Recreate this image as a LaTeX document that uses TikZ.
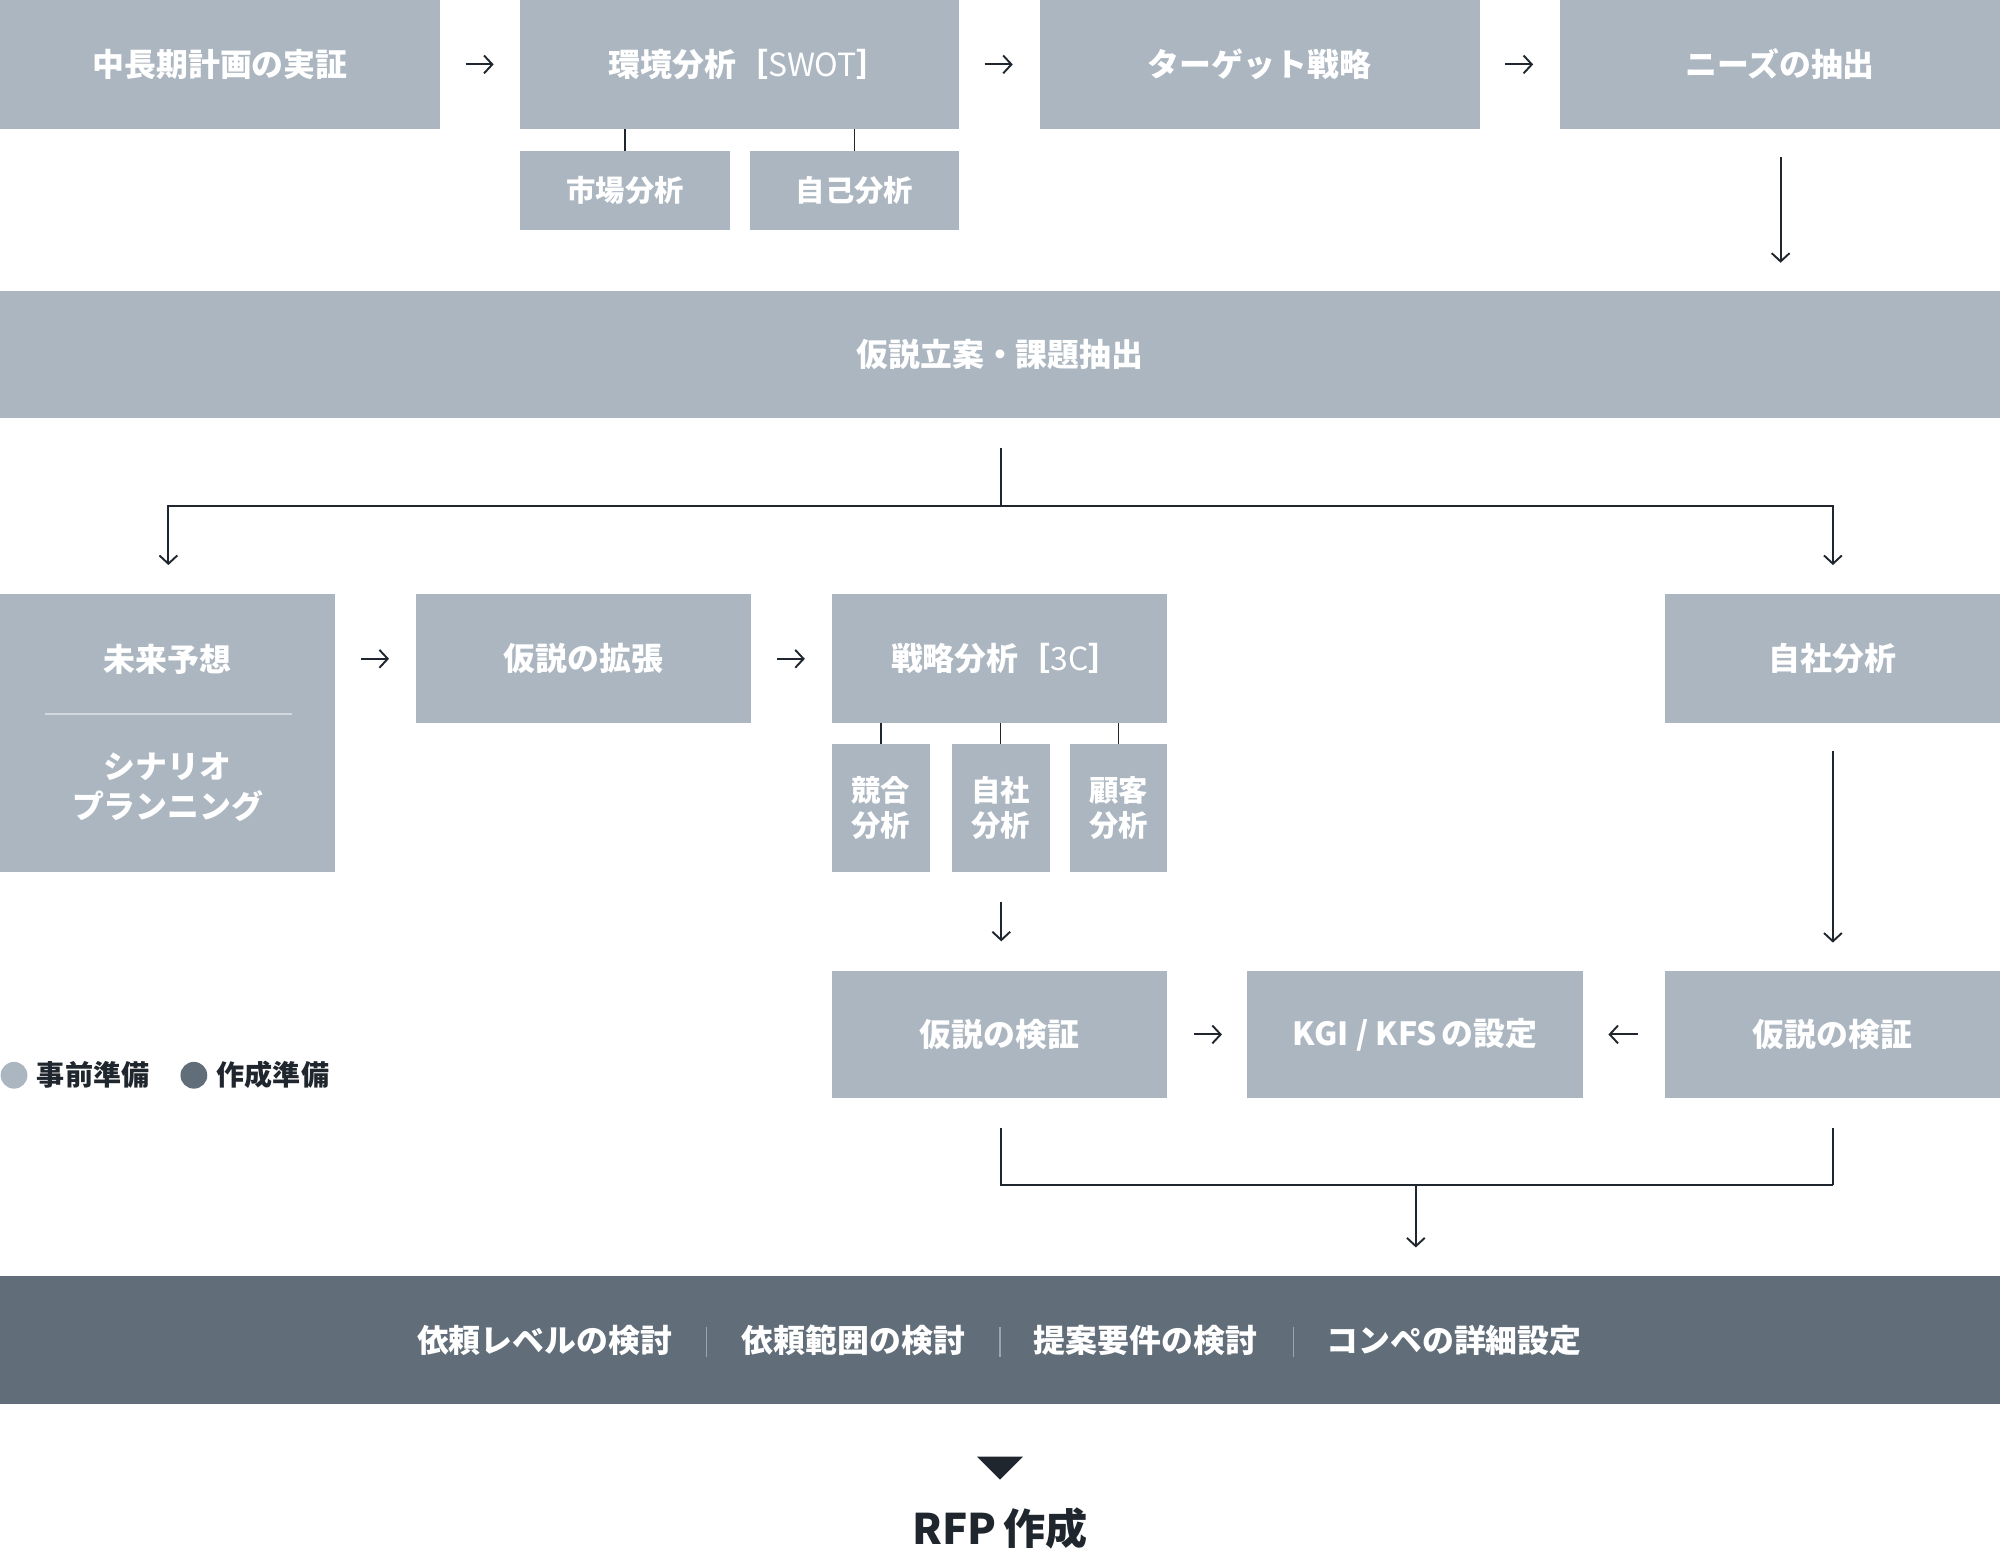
\documentclass[tikz,border=0pt]{standalone}
\usepackage{fontspec}
\setmainfont{Noto Sans CJK JP}
\usetikzlibrary{arrows.meta}
\definecolor{lightc}{HTML}{ABB6C0}
\definecolor{darkbar}{HTML}{616E79}
\definecolor{inkc}{HTML}{1F262D}
\definecolor{divc}{HTML}{D2D8DE}
\definecolor{sepc}{HTML}{9AA5AF}
\tikzset{
  box/.style={fill=lightc, inner sep=0pt, outer sep=0pt, text=white, align=center,
    font=\fontsize{25}{31}\selectfont\bfseries},
  subbox/.style={box, font=\fontsize{23}{28}\selectfont\bfseries},
  arr/.style={draw=inkc, line width=1.5pt, -{Straight Barb[length=6.5pt,width=14pt]}},
  link/.style={draw=inkc, line width=1.2pt},
  lbl/.style={inner sep=0pt, outer sep=0pt},
}
\begin{document}
\begin{tikzpicture}[x=1pt,y=-1pt]
\useasboundingbox (0,0) rectangle (1568,1223);
% row 1
\node[box, minimum width=345, minimum height=101] (b1) at (172.5,50.5) {中長期計画の実証};
\node[box, minimum width=344, minimum height=101] (b2) at (580,50.5) {\hspace{14pt}環境分析［{\mdseries SWOT}］};
\node[box, minimum width=345, minimum height=101] (b3) at (987.5,50.5) {ターゲット戦略};
\node[box, minimum width=345, minimum height=101] (b4) at (1395.5,50.5) {ニーズの抽出};
\draw[arr, shorten <=20pt, shorten >=21pt] (b1) -- (b2);
\draw[arr, shorten <=20pt, shorten >=21pt] (b2) -- (b3);
\draw[arr, shorten <=20pt, shorten >=21pt] (b3) -- (b4);
% sub boxes of SWOT
\node[subbox, minimum width=164, minimum height=62] (s1) at (490,149) {市場分析};
\node[subbox, minimum width=164, minimum height=62] (s2) at (670,149) {自己分析};
\draw[link] (s1.north) -- (s1.north |- b2.south);
\draw[link] (s2.north) -- (s2.north |- b2.south);
% big box
\node[box, minimum width=1568, minimum height=100] (big) at (784,278) {仮説立案・課題抽出};
\draw[arr, shorten <=22pt, shorten >=22pt] (b4.south -| 1396,0) -- (big.north -| 1396,0);
% row 3
\node[box, minimum width=263, minimum height=218] (fut) at (131.5,575) {};
\node[lbl, text=white, font=\fontsize{25}{31}\selectfont\bfseries] (futa) at (131.5,517) {未来予想};
\node[lbl, text=white, font=\fontsize{25}{31}\selectfont\bfseries, align=center] (futb) at (131.5,617) {シナリオ\\プランニング};
\draw[divc, line width=1.5pt] (35,560) -- (229,560);
\node[box, minimum width=263, minimum height=101] (ext) at (457.5,516.5) {仮説の拡張};
\node[box, minimum width=263, minimum height=101] (c3) at (783.5,516.5) {\hspace{10pt}戦略分析［{\mdseries 3C}］};
\node[box, minimum width=263, minimum height=101] (own) at (1436.5,516.5) {自社分析};
\coordinate (fute) at (fut.east |- ext.west);
\draw[arr, shorten <=20pt, shorten >=21pt] (fute) -- (ext.west);
\draw[arr, shorten <=20pt, shorten >=21pt] (ext) -- (c3);
% branch
\coordinate (j) at (785,397);
\coordinate (jl) at (132,397);
\coordinate (jr) at (1437,397);
\draw[link, line width=1.5pt, shorten <=23pt] (big.south -| j) -- (j);
\draw[arr] (j) -- (jl) -- ([yshift=23pt]jl |- fut.north);
\draw[arr] (j) -- (jr) -- ([yshift=23pt]jr |- own.north);
% 3C sub boxes
\node[subbox, minimum width=77, minimum height=101] (k1) at (690.5,633.5) {競合\\分析};
\node[subbox, minimum width=77, minimum height=101] (k2) at (784.5,633.5) {自社\\分析};
\node[subbox, minimum width=76, minimum height=101] (k3) at (877,633.5) {顧客\\分析};
\draw[link] (k1.north) -- (k1.north |- c3.south);
\draw[link] (k2.north) -- (k2.north |- c3.south);
\draw[link] (k3.north) -- (k3.north |- c3.south);
% row 4
\node[box, minimum width=263, minimum height=100] (v1) at (783.5,811) {仮説の検証};
\node[box, minimum width=263, minimum height=100] (kgi) at (1109.5,811) {KGI / KFS\hspace{4pt}の設定};
\node[box, minimum width=263, minimum height=100] (v2) at (1436.5,811) {仮説の検証};
\draw[arr, shorten <=23pt, shorten >=23pt] (k2.south -| 785,0) -- (v1.north -| 785,0);
\draw[arr, shorten <=22pt, shorten >=22pt] (own.south -| 1437,0) -- (v2.north -| 1437,0);
\draw[arr, shorten <=21pt, shorten >=20pt] (v1) -- (kgi);
\draw[arr, shorten <=21pt, shorten >=20pt] (v2) -- (kgi);
% legend
\node[circle, fill=lightc, minimum size=21, inner sep=0pt] (lg1) at (11,843) {};
\node[lbl, anchor=west, text=inkc, font=\fontsize{22}{26}\selectfont\bfseries] (lt1) at (29,843) {事前準備};
\node[circle, fill=darkbar, minimum size=21, inner sep=0pt] (lg2) at (152,843) {};
\node[lbl, anchor=west, text=inkc, font=\fontsize{22}{26}\selectfont\bfseries] (lt2) at (170,843) {作成準備};
% bottom bracket
\coordinate (bl) at (785,929);
\coordinate (br) at (1437,929);
\coordinate (bm) at (1110,929);
\draw[link, line width=1.5pt, shorten <=23pt] (v1.south -| bl) -- (bl) -- (br);
\draw[link, line width=1.5pt, shorten >=23pt] (br) -- (v2.south -| br);
% dark bar
\node[fill=darkbar, inner sep=0pt, outer sep=0pt, minimum width=1568, minimum height=101] (bar) at (784,1050.5) {};
\draw[arr, shorten >=22pt] (bm) -- (bm |- bar.north);
\tikzset{bartxt/.style={lbl, text=white, font=\fontsize{25}{31}\selectfont\bfseries}}
\node[bartxt] (t1) at (427,1051) {依頼レベルの検討};
\node[bartxt] (t2) at (669,1051) {依頼範囲の検討};
\node[bartxt] (t3) at (898,1051) {提案要件の検討};
\node[bartxt] (t4) at (1140,1051) {コンペの詳細設定};
\draw[sepc, line width=1pt] (554,1040) -- (554,1064);
\draw[sepc, line width=1pt] (784,1040) -- (784,1064);
\draw[sepc, line width=1pt] (1014,1040) -- (1014,1064);
% final
\fill[inkc] (766,1142) -- (802,1142) -- (784,1160) -- cycle;
\node[lbl, text=inkc, font=\fontsize{33}{38}\selectfont\bfseries] (rfp) at (784,1198) {RFP\hspace{5pt}作成};
\end{tikzpicture}
\end{document}
